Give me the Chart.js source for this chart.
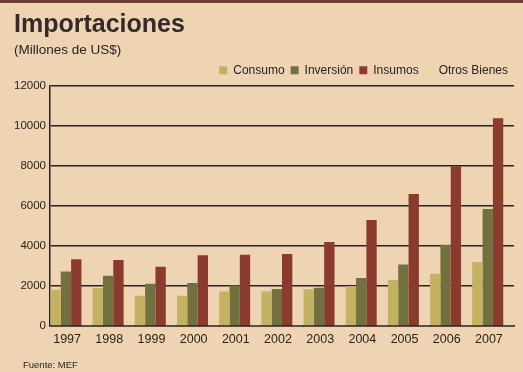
<!DOCTYPE html>
<html>
<head>
<meta charset="utf-8">
<script src="https://cdn.jsdelivr.net/npm/chart.js@4"></script>
<style>
    html, body {
        margin: 0;
        padding: 0;
        background: #efd4b4;
    }
    #imports-graph-canvas {
        display: block;
    }
</style>
</head>
<body>
<canvas id="imports-graph-canvas" width="523" height="372"></canvas>
<script>
const years = ['1997', '1998', '1999', '2000', '2001', '2002', '2003', '2004', '2005', '2006', '2007'];

// millones de US$
const consumo    = [1830, 1900, 1520, 1520, 1730, 1740, 1840, 2000, 2300, 2620, 3200];
const inversion  = [2730, 2520, 2120, 2150, 2030, 1850, 1920, 2400, 3080, 4060, 5850];
const insumos    = [3340, 3300, 2960, 3540, 3560, 3600, 4200, 5300, 6600, 8000, 10400];
const otrosBienes = [110, 90, 70, 80, 60, 80, 90, 100, 90, 80, 100];

const yTicks = [0, 2000, 4000, 6000, 8000, 10000, 12000];

const INK = '#2b2220';
const FONT = '"Liberation Sans", Arial, Helvetica, sans-serif';

// franja superior y nota de fuente
const paperDecor = {
    id: 'paperDecor',
    beforeDraw(chart) {
        const ctx = chart.ctx;
        ctx.save();
        ctx.fillStyle = '#6b3f34';
        ctx.fillRect(0, 0, chart.width, 3);
        ctx.restore();
    },
    afterDraw(chart) {
        const ctx = chart.ctx;
        ctx.save();
        ctx.font = '9.5px ' + FONT;
        ctx.fillStyle = INK;
        ctx.textBaseline = 'middle';
        ctx.fillText('Fuente: MEF', 23, 365);
        ctx.restore();
    }
};

function drawChart() {
    const ctx = document.getElementById('imports-graph-canvas');

    new Chart(ctx, {
    type: 'bar',
    data: {
        labels: years,
        datasets: [
            {
                label: 'Consumo',
                data: consumo,
                backgroundColor: '#c2b262'
            },
            {
                label: 'Inversión',
                data: inversion,
                backgroundColor: '#72703f'
            },
            {
                label: 'Insumos',
                data: insumos,
                backgroundColor: '#8a3b2d'
            },
            {
                label: 'Otros Bienes',
                data: otrosBienes,
                backgroundColor: '#e9d7a4'
            }
        ]
    },
    options: {
        responsive: false,
        animation: false,
        devicePixelRatio: 1,
        categoryPercentage: 0.98,
        barPercentage: 1.0,
        layout: {
            padding: { left: 14, right: 9, top: 0, bottom: 19 }
        },
        plugins: {
            title: {
                display: true,
                text: 'Importaciones',
                align: 'start',
                color: '#332b29',
                font: { family: FONT, size: 25, weight: 'bold' },
                padding: { top: 10, bottom: 0 }
            },
            subtitle: {
                display: true,
                text: '(Millones de US$)',
                align: 'start',
                color: INK,
                font: { family: FONT, size: 13.5 },
                padding: { top: 2, bottom: 0 }
            },
            legend: {
                position: 'top',
                align: 'end',
                labels: {
                    boxWidth: 8,
                    boxHeight: 8,
                    padding: 6,
                    color: INK,
                    font: { family: FONT, size: 12 }
                }
            },
            tooltip: { enabled: false }
        },
        scales: {
            x: {
                grid: { display: false, drawTicks: false },
                border: { color: INK, width: 1.5 },
                ticks: {
                    color: INK,
                    padding: 6,
                    labelOffset: -4,
                    maxRotation: 0,
                    font: { family: FONT, size: 12.5 }
                }
            },
            y: {
                min: 0,
                max: 12000,
                afterFit(scale) {
                    scale.width = 36;
                },
                afterBuildTicks(scale) {
                    scale.ticks = yTicks.map(v => ({ value: v }));
                },
                grid: {
                    color: INK,
                    lineWidth: 1.5,
                    drawTicks: false
                },
                border: { color: INK, width: 1.5 },
                ticks: {
                    color: INK,
                    padding: 4,
                    font: { family: FONT, size: 11.5 },
                    callback: value => String(value)
                }
            }
        }
    },
    plugins: [paperDecor]
    });
}

drawChart();
</script>
</body>
</html>
